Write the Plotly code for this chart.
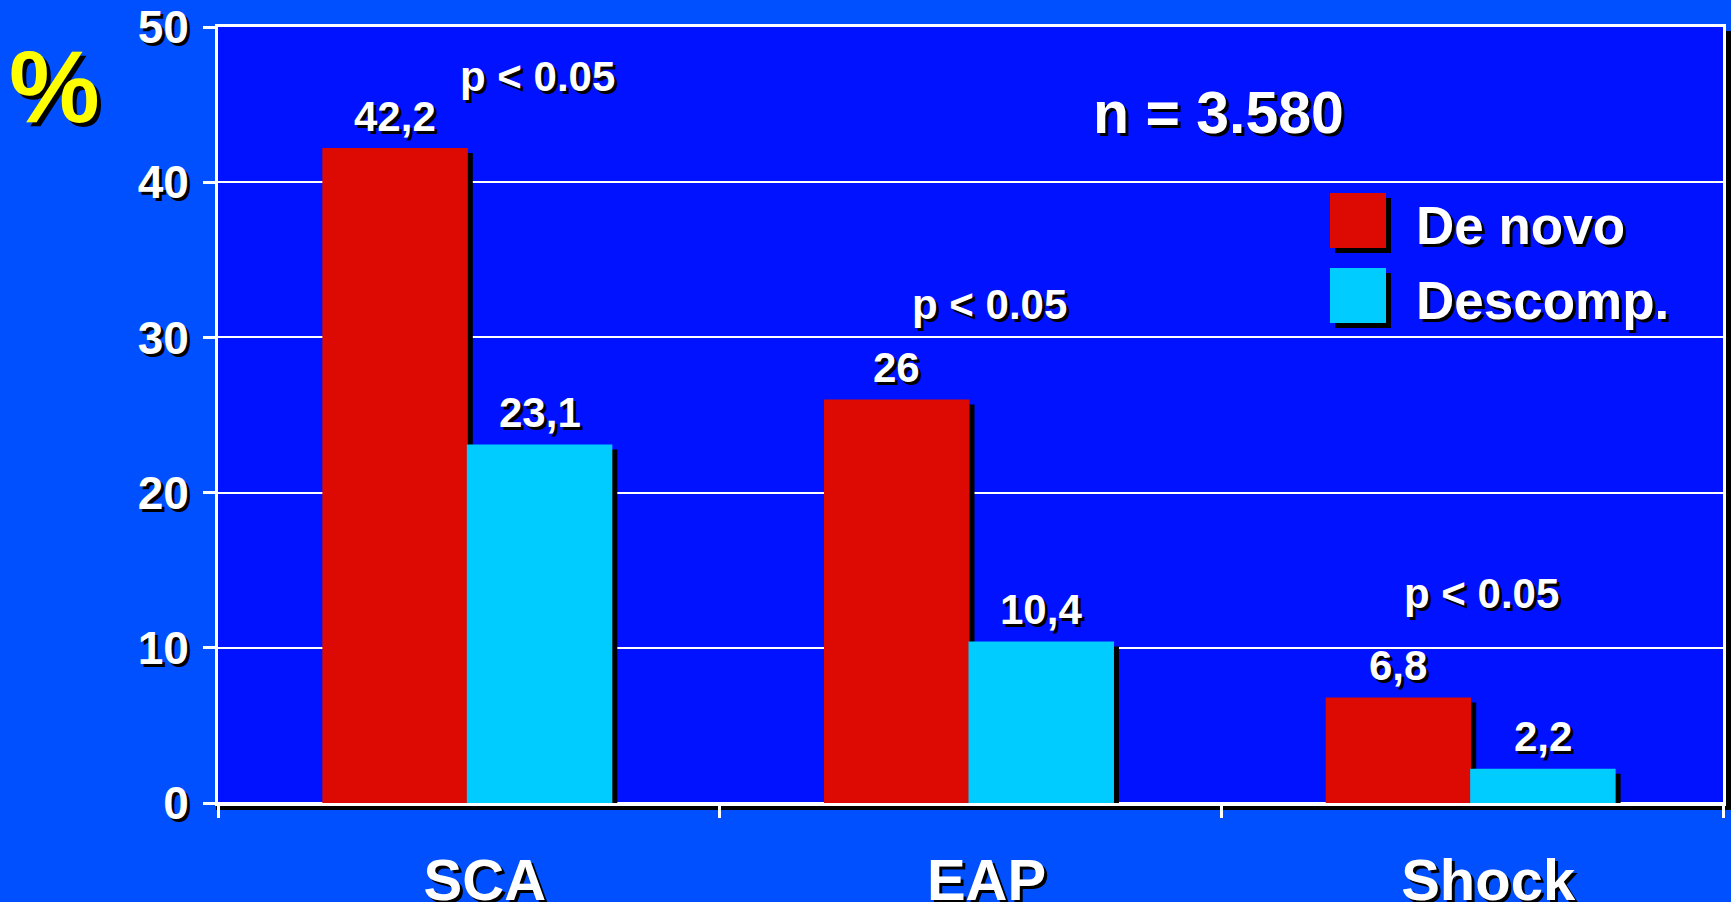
import plotly.graph_objects as go

# Categories and series values (%)
categories = ["SCA", "EAP", "Shock"]
de_novo = [42.2, 26, 6.8]
descomp = [23.1, 10.4, 2.2]
series_names = ["De novo", "Descomp."]
y_ticks = [0, 10, 20, 30, 40, 50]

# Significance notes: (x position in category units, y in %)
p_text = "p < 0.05"
p_x = [0.137, 1.037, 2.018]
p_y = [46.8, 32.1, 13.5]
n_text = "n = 3.580"

# Styling
FONT = "Liberation Sans"
OUTER_BG = "#0050FF"
PLOT_BG = "#0012FF"
RED = "#DC0A03"
CYAN = "#00CCFF"
SHADOW = "3px 3px 0px #000000"

W, H = 1731, 902
M_L, M_R, M_T, M_B = 218, 8, 27, 99
plot_w = W - M_L - M_R
plot_h = H - M_T - M_B
y_max = 50

BAR_W = 0.29
RED_OFF = -0.292
CYAN_OFF = -0.004
# drop-shadow offset, 5 px expressed in axis units
sh_px = 5
dx = sh_px / (plot_w / len(categories))
dy = sh_px / (plot_h / y_max)


def fmt(v):
    return f"{v:g}".replace(".", ",")


def px(x):
    return (x - M_L) / plot_w


def py(y):
    return (H - M_B - y) / plot_h


fig = go.Figure()

# shadows behind the bars
for vals, off in ((de_novo, RED_OFF), (descomp, CYAN_OFF)):
    fig.add_trace(go.Bar(
        x=categories, y=vals, base=[-dy] * len(vals),
        offset=off + dx, width=BAR_W,
        marker=dict(color="black", line=dict(width=0)),
        showlegend=False, hoverinfo="skip",
    ))

fig.add_trace(go.Bar(
    x=categories, y=de_novo, name=series_names[0],
    offset=RED_OFF, width=BAR_W,
    marker=dict(color=RED, line=dict(width=0)), showlegend=False,
))
fig.add_trace(go.Bar(
    x=categories, y=descomp, name=series_names[1],
    offset=CYAN_OFF, width=BAR_W,
    marker=dict(color=CYAN, line=dict(width=0)), showlegend=False,
))

annotations = []
label_font = dict(family=FONT, size=42, color="white", weight="bold", shadow=SHADOW)

# value labels above each bar
for i, cat in enumerate(categories):
    for vals, off in ((de_novo, RED_OFF), (descomp, CYAN_OFF)):
        annotations.append(dict(
            x=i + off + BAR_W / 2, y=vals[i], xref="x", yref="y",
            text=fmt(vals[i]), showarrow=False,
            xanchor="center", yanchor="middle", yshift=32,
            font=label_font,
        ))

# significance notes
for x, y in zip(p_x, p_y):
    annotations.append(dict(
        x=x, y=y, xref="x", yref="y", text=p_text, showarrow=False,
        xanchor="center", yanchor="middle", font=label_font,
    ))

annotations.append(dict(
    x=px(1218), y=py(113), xref="paper", yref="paper", text=n_text,
    showarrow=False, xanchor="center", yanchor="middle",
    font=dict(family=FONT, size=59, color="white", weight="bold", shadow=SHADOW),
))

annotations.append(dict(
    x=px(54), y=py(87), xref="paper", yref="paper", text="%",
    showarrow=False, xanchor="center", yanchor="middle",
    font=dict(family=FONT, size=102, color="#FFFF00", weight="bold",
              shadow="4px 4px 0px #000000"),
))

# legend: swatches with shadows, then labels
shapes = []
legend_rows = [(193, 248, RED), (268, 323, CYAN)]
for (y0, y1, col), name in zip(legend_rows, series_names):
    shapes.append(dict(type="rect", xref="paper", yref="paper",
                       x0=px(1330 + sh_px), x1=px(1386 + sh_px),
                       y0=py(y1 + sh_px), y1=py(y0 + sh_px),
                       fillcolor="black", line=dict(width=0), layer="above"))
    shapes.append(dict(type="rect", xref="paper", yref="paper",
                       x0=px(1330), x1=px(1386), y0=py(y1), y1=py(y0),
                       fillcolor=col, line=dict(width=0), layer="above"))
    annotations.append(dict(
        x=px(1414), y=py((y0 + y1) / 2 + 5), xref="paper", yref="paper",
        text=name, showarrow=False, xanchor="left", yanchor="middle",
        font=dict(family=FONT, size=53, color="white", weight="bold", shadow=SHADOW),
    ))

# drop shadow of the plot frame (right and bottom edges)
shapes.append(dict(type="rect", xref="paper", yref="paper",
                   x0=1 + 1 / plot_w, x1=1 + 8 / plot_w,
                   y0=-7 / plot_h, y1=1 - 4 / plot_h,
                   fillcolor="black", line=dict(width=0), layer="below"))
shapes.append(dict(type="rect", xref="paper", yref="paper",
                   x0=-2 / plot_w, x1=1 + 8 / plot_w,
                   y0=-7 / plot_h, y1=-1 / plot_h,
                   fillcolor="black", line=dict(width=0), layer="below"))

fig.update_layout(
    width=W, height=H,
    margin=dict(l=M_L, r=M_R, t=M_T, b=M_B, pad=0, autoexpand=False),
    paper_bgcolor=OUTER_BG, plot_bgcolor=PLOT_BG,
    barmode="overlay", showlegend=False,
    annotations=annotations, shapes=shapes,
    xaxis=dict(
        type="category", categoryorder="array", categoryarray=categories,
        range=[-0.5, len(categories) - 0.5], automargin=False,
        showgrid=False, zeroline=False,
        showline=True, linecolor="white", linewidth=3, mirror=True,
        ticks="outside", tickson="boundaries", ticklen=12, tickwidth=3,
        tickcolor="white", ticklabelstandoff=24, ticklabelshift=16,
        tickfont=dict(family=FONT, size=58, color="white", weight="bold",
                      shadow=SHADOW),
    ),
    yaxis=dict(
        range=[0, y_max], tickvals=y_ticks, automargin=False,
        showgrid=True, gridcolor="white", gridwidth=2,
        zeroline=True, zerolinecolor="white", zerolinewidth=3,
        showline=True, linecolor="white", linewidth=3, mirror=True,
        ticks="outside", ticklen=12, tickwidth=3, tickcolor="white",
        ticklabelstandoff=5,
        tickfont=dict(family=FONT, size=46, color="white", weight="bold",
                      shadow=SHADOW),
    ),
)

fig.write_html("out.html")
